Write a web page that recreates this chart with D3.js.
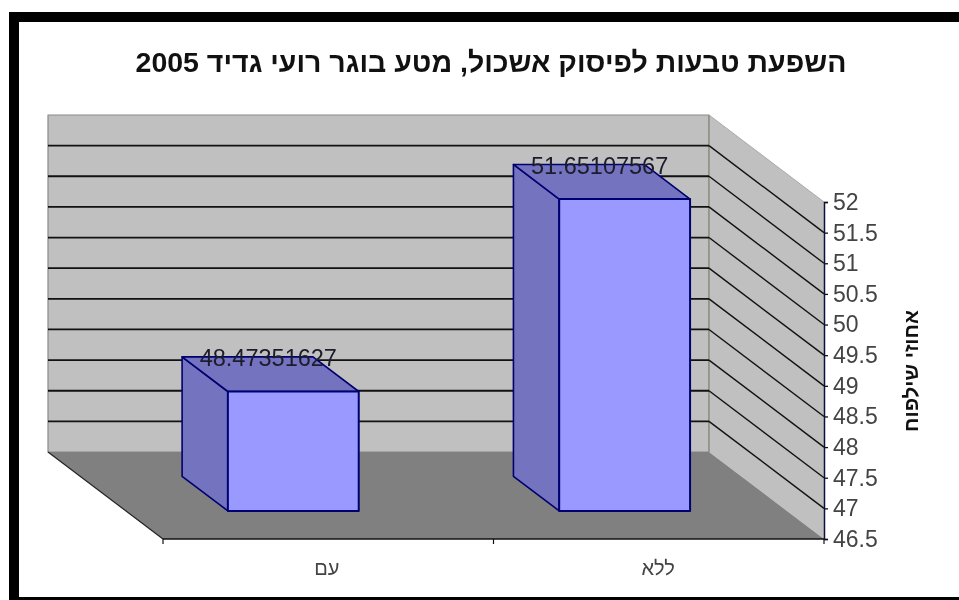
<!DOCTYPE html>
<html><head><meta charset="utf-8">
<script src="https://cdn.jsdelivr.net/npm/d3@7/dist/d3.min.js"></script>
<style>html,body{margin:0;padding:0;background:#fff;overflow:hidden}svg{display:block;filter:blur(0.4px)}text{font-family:"Liberation Sans",Arial,sans-serif}</style>
</head><body><svg id="c" width="959" height="600"></svg>
<script>
const categories = ["עם", "ללא"];
const seriesValues = [48.47351627, 51.65107567];
const valueLabels = ["48.47351627", "51.65107567"];
const tickLabels = [46.5, 47, 47.5, 48, 48.5, 49, 49.5, 50, 50.5, 51, 51.5, 52];
const chartTitle = "השפעת טבעות לפיסוק אשכול, מטע בוגר רועי גדיד 2005";
const axisTitle = "אחוזי שילפוח";

const svg = d3.select("#c");
// frame
svg.append("rect").attr("x",9).attr("y",12).attr("width",950).attr("height",588).attr("fill","#000");
svg.append("rect").attr("x",19).attr("y",22).attr("width",940).attr("height",575).attr("fill","#fff");

const y = d3.scaleLinear().domain([46.5,52]).range([539,202]);
const barH = d3.scaleLinear().domain([46.5,52]).range([0,333]);
const x = d3.scaleBand().domain(categories).range([163,824]).paddingInner(0.605).paddingOuter(0.3);
const DX=115, DY=87;
const P=(px,py,d)=>[px-DX*d,py-DY*d];
const poly=(pts,fill,stroke,sw)=>svg.append("polygon").attr("points",pts.map(p=>p.join(",")).join(" "))
  .attr("fill",fill).attr("stroke",stroke||"none").attr("stroke-width",sw||0).attr("stroke-linejoin","round");
const [xL,xR]=x.range(), yB=y(46.5), yT=y(52);

// walls and floor
poly([P(xL,yT,1),P(xR,yT,1),P(xR,yB,1),P(xL,yB,1)],"#c0c0c0","#8a8a8a",1.2);
poly([P(xR,yT,1),P(xR,yT,0),P(xR,yB,0),P(xR,yB,1)],"#c0c0c0");
svg.append("line").attr("x1",P(xR,yT,1)[0]).attr("y1",P(xR,yT,1)[1]).attr("x2",xR).attr("y2",yT).attr("stroke","#aaa").attr("stroke-width",1);
poly([P(xL,yB,1),P(xR,yB,1),P(xR,yB,0),P(xL,yB,0)],"#808080");
svg.append("line").attr("x1",P(xL,yB,1)[0]).attr("y1",P(xL,yB,1)[1]).attr("x2",xL).attr("y2",yB).attr("stroke","#222").attr("stroke-width",1.2);
svg.append("line").attr("x1",P(xR,yT,1)[0]).attr("y1",P(xR,yT,1)[1]).attr("x2",P(xR,yB,1)[0]).attr("y2",P(xR,yB,1)[1]).attr("stroke","#8f8f7f").attr("stroke-width",1.5);

// gridlines
const inner=tickLabels.slice(1,-1);
svg.append("g").selectAll("line").data(inner).join("line")
  .attr("x1",P(xL,0,1)[0]).attr("x2",P(xR,0,1)[0])
  .attr("y1",d=>P(0,y(d),1)[1]).attr("y2",d=>P(0,y(d),1)[1])
  .attr("stroke","#111").attr("stroke-width",1.8);
svg.append("g").selectAll("line").data(inner).join("line")
  .attr("x1",P(xR,0,1)[0]).attr("x2",xR)
  .attr("y1",d=>P(0,y(d),1)[1]).attr("y2",d=>y(d))
  .attr("stroke","#111").attr("stroke-width",1.4);

// bars
const dF=0.322, dB=0.72, off=2.5, base=y(46.5);
categories.forEach((c,i)=>{
  const x0=x(c)+off, x1=x0+x.bandwidth(), h=barH(seriesValues[i]);
  const b=base, t=base-h;
  const line="#000070";
  poly([P(x0,t,dF),P(x0,t,dB),P(x0,b,dB),P(x0,b,dF)],"#7373bf",line,1.6);
  poly([P(x0,t,dF),P(x0,t,dB),P(x1,t,dB),P(x1,t,dF)],"#7373bf",line,1.6);
  poly([P(x0,t,dF),P(x1,t,dF),P(x1,b,dF),P(x0,b,dF)],"#9999ff",line,2);
});
// value labels
categories.forEach((c,i)=>{
  const x0=x(c)+off, h=barH(seriesValues[i]);
  const p=P(x0+x.bandwidth()/2,base-h,dF);
  svg.append("text").attr("x",p[0]-25).attr("y",p[1]-25).attr("text-anchor","middle")
    .attr("font-size",23.5).attr("fill","#1c1c2a").text(valueLabels[i]);
});

// axes
const axisY=d3.axisRight(y).tickValues(tickLabels).tickFormat(d=>String(d)).tickSize(4).tickPadding(5);
const gy=svg.append("g").attr("transform",`translate(${xR},0)`).call(axisY);
gy.select(".domain").attr("stroke","#101040").attr("stroke-width",1.5);
gy.selectAll(".tick line").attr("stroke","#111").attr("stroke-width",1.3);
gy.selectAll("text").attr("font-size",23).attr("fill","#444").attr("font-family","Liberation Sans");

const tickX=[xL,(xL+xR)/2,xR];
svg.append("line").attr("x1",xL).attr("x2",xR).attr("y1",yB).attr("y2",yB).attr("stroke","#111").attr("stroke-width",1.6);
svg.append("g").selectAll("line").data(tickX).join("line").attr("x1",d=>d).attr("x2",d=>d).attr("y1",yB).attr("y2",yB+5).attr("stroke","#111").attr("stroke-width",1.2);
categories.forEach((c,i)=>{
  svg.append("text").attr("x",x(c)+x.bandwidth()/2-1).attr("y",575).attr("text-anchor","middle").attr("direction","rtl")
   .attr("font-size",20).attr("fill","#444").text(c);
});

// titles
svg.append("text").attr("x",491).attr("y",72).attr("text-anchor","middle").attr("direction","rtl")
  .attr("font-size",28.5).attr("font-weight","bold").attr("fill","#111").text(chartTitle);
svg.append("text").attr("transform","translate(918,371) rotate(-90)").attr("text-anchor","middle").attr("direction","rtl")
  .attr("font-size",20.5).attr("font-weight","bold").attr("fill","#111").text(axisTitle);
</script></body></html>
